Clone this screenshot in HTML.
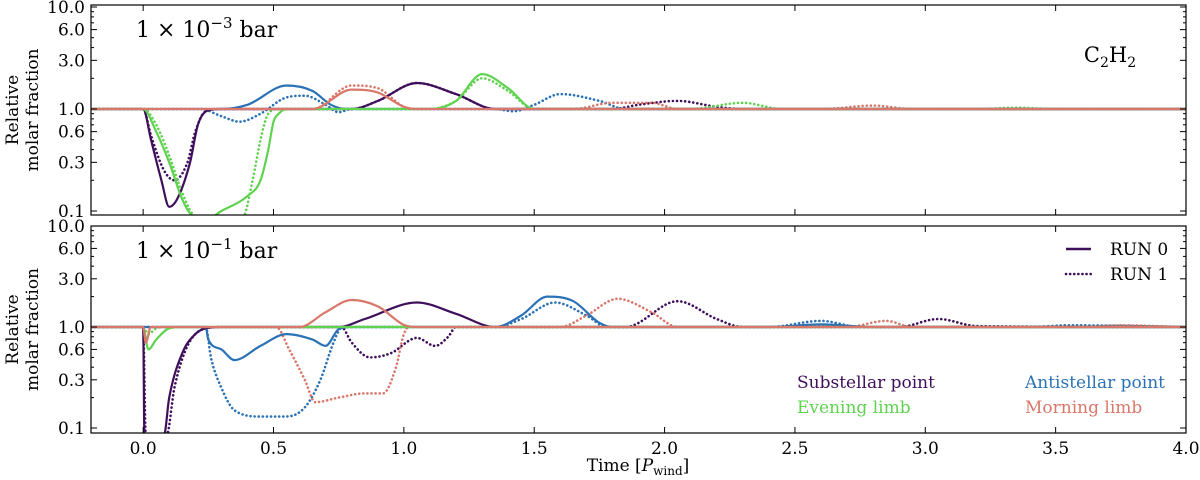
<!DOCTYPE html>
<html><head><meta charset="utf-8"><style>
body{margin:0;background:#fff;}
svg{display:block;font-family:"DejaVu Serif","Liberation Serif",serif;}
</style></head><body>
<svg id="chart" width="1200" height="480" viewBox="0 0 1200 480" xmlns="http://www.w3.org/2000/svg">
<g id="plots"></g>
</svg>
<script>
// ---- data ----
const categories = ["Substellar point","Evening limb","Antistellar point","Morning limb"];
const colors = ["#3f0f5c","#5fd34f","#2a72b5","#d9786a"];
const xTicks = [0.0,0.5,1.0,1.5,2.0,2.5,3.0,3.5,4.0];
const yTicks = [0.1,0.3,0.6,1.0,3.0,6.0,10.0];
const yTickLabels = ["0.1","0.3","0.6","1.0","3.0","6.0","10.0"];
const p1Sub0 = [[-0.2,1],[0,1],[0.03,0.5],[0.07,0.2],[0.1,0.11],[0.13,0.13],[0.18,0.3],[0.21,0.7],[0.25,0.97],[0.3,1],[0.8,1],[0.9,1.2],[1.05,1.8],[1.2,1.4],[1.35,1],[4,1]];
const p1Sub1 = [[-0.2,1],[0,1],[0.03,0.55],[0.08,0.25],[0.12,0.2],[0.17,0.3],[0.2,0.6],[0.24,0.95],[0.3,1],[0.8,1],[0.9,1.2],[1.05,1.8],[1.2,1.4],[1.35,1],[1.8,1],[1.9,1.1],[2.05,1.2],[2.2,1.05],[2.3,1],[4,1]];
const p1Eve0 = [[-0.2,1],[0,1],[0.05,0.6],[0.1,0.3],[0.15,0.13],[0.19,0.09],[0.25,0.085],[0.3,0.1],[0.4,0.14],[0.45,0.2],[0.48,0.4],[0.5,0.75],[0.52,0.9],[0.55,1],[1.1,1],[1.2,1.2],[1.3,2.2],[1.4,1.6],[1.5,1],[4,1]];
const p1Eve1 = [[-0.2,1],[0,1],[0.05,0.7],[0.1,0.35],[0.15,0.15],[0.2,0.09],[0.38,0.085],[0.42,0.2],[0.45,0.5],[0.48,0.9],[0.52,1],[1.1,1],[1.2,1.2],[1.3,2.0],[1.4,1.5],[1.5,1],[2.1,1],[2.3,1.15],[2.45,1],[3.2,1],[3.35,1.03],[3.5,1],[4,1]];
const p1Ant0 = [[-0.2,1],[0,1],[0.3,1],[0.4,1.1],[0.55,1.7],[0.65,1.5],[0.72,1.1],[0.78,1],[4,1]];
const p1Ant1 = [[-0.2,1],[0,1],[0.22,1],[0.3,0.85],[0.37,0.75],[0.45,0.9],[0.55,1.3],[0.62,1.35],[0.7,1.1],[0.75,0.93],[0.8,1],[1.35,1],[1.42,0.95],[1.5,1.1],[1.6,1.4],[1.75,1.2],[1.85,1],[4,1]];
const p1Mor0 = [[-0.2,1],[0,1],[0.65,1],[0.8,1.55],[0.9,1.45],[1.0,1.05],[1.05,1],[4,1]];
const p1Mor1 = [[-0.2,1],[0,1],[0.65,1],[0.8,1.7],[0.9,1.6],[1.0,1.05],[1.05,1],[1.65,1],[1.8,1.15],[1.95,1.15],[2.05,1],[2.6,1],[2.8,1.08],[2.95,1],[4,1]];
const p2Sub0 = [[-0.2,1],[0,1],[0.005,0.085],[0.08,0.085],[0.1,0.2],[0.15,0.55],[0.2,0.85],[0.24,0.97],[0.3,1],[0.75,1],[0.85,1.2],[1.05,1.75],[1.2,1.35],[1.35,1],[4,1]];
const p2Sub1 = [[-0.2,1],[0,1],[0.01,0.085],[0.09,0.085],[0.12,0.25],[0.17,0.65],[0.24,0.97],[0.3,1],[0.76,1],[0.8,0.7],[0.87,0.5],[0.95,0.55],[1.05,0.78],[1.12,0.65],[1.17,0.8],[1.2,1],[1.85,1],[2.05,1.8],[2.2,1.2],[2.3,1],[2.9,1],[3.05,1.2],[3.2,1.02],[4,1]];
const p2Eve0 = [[-0.2,1],[0,1],[0.02,0.6],[0.05,0.75],[0.1,0.97],[0.15,1],[4,1]];
const p2Eve1 = [[-0.2,1],[0,1],[0.02,0.85],[0.05,0.97],[0.08,1],[4,1]];
const p2Ant0 = [[-0.2,1],[0,1],[0.24,1],[0.25,0.75],[0.3,0.6],[0.35,0.47],[0.45,0.65],[0.55,0.85],[0.65,0.75],[0.7,0.65],[0.75,0.95],[0.8,1],[1.35,1],[1.45,1.3],[1.55,2.0],[1.65,1.8],[1.75,1.1],[1.8,1],[2.4,1],[2.6,1.06],[2.8,1],[4,1]];
const p2Ant1 = [[-0.2,1],[0,1],[0.24,1],[0.26,0.5],[0.3,0.25],[0.35,0.15],[0.45,0.13],[0.55,0.13],[0.62,0.16],[0.68,0.3],[0.73,0.7],[0.76,0.98],[0.8,1],[1.35,1],[1.45,1.2],[1.58,1.75],[1.7,1.3],[1.78,1],[2.4,1],[2.6,1.15],[2.75,1],[3.4,1],[3.55,1.04],[4,1]];
const p2Mor0 = [[-0.2,1],[0,1],[0.01,0.7],[0.03,1],[0.6,1],[0.7,1.4],[0.8,1.85],[0.9,1.6],[1.0,1.05],[1.05,1],[4,1]];
const p2Mor1 = [[-0.2,1],[0,1],[0.51,1],[0.56,0.6],[0.62,0.3],[0.66,0.18],[0.75,0.2],[0.85,0.22],[0.92,0.22],[0.97,0.4],[1.0,0.85],[1.02,1],[1.6,1],[1.7,1.3],[1.82,1.9],[1.95,1.4],[2.05,1],[2.7,1],[2.85,1.15],[2.95,1],[3.6,1],[3.75,1.04],[4,1]];

const NS="http://www.w3.org/2000/svg";
const root=document.getElementById('plots');
const L=91,R=1186,X0=-0.2,X1=4.0;
function sx(t){return L+(t-X0)/(X1-X0)*(R-L);}
function mk(tag,attrs,parent){const e=document.createElementNS(NS,tag);for(const k in attrs)e.setAttribute(k,attrs[k]);(parent||root).appendChild(e);return e;}
function monotone(pts){
  const n=pts.length;if(n<3)return pts;
  const d=[],m=[];
  for(let i=0;i<n-1;i++)d.push((pts[i+1][1]-pts[i][1])/Math.max(1e-6,pts[i+1][0]-pts[i][0]));
  m[0]=d[0];m[n-1]=d[n-2];
  for(let i=1;i<n-1;i++)m[i]=(d[i-1]*d[i]<=0)?0:(d[i-1]+d[i])/2;
  for(let i=0;i<n-1;i++){if(d[i]===0){m[i]=0;m[i+1]=0;continue;}const a=m[i]/d[i],b=m[i+1]/d[i],s=a*a+b*b;if(s>9){const t=3/Math.sqrt(s);m[i]=t*a*d[i];m[i+1]=t*b*d[i];}}
  let p="M"+pts[0][0].toFixed(1)+","+pts[0][1].toFixed(1);
  for(let i=0;i<n-1;i++){const h=pts[i+1][0]-pts[i][0];
    p+=" C"+(pts[i][0]+h/3).toFixed(1)+","+(pts[i][1]+m[i]*h/3).toFixed(1)+" "+(pts[i+1][0]-h/3).toFixed(1)+","+(pts[i+1][1]-m[i+1]*h/3).toFixed(1)+" "+pts[i+1][0].toFixed(1)+","+pts[i+1][1].toFixed(1);}
  return p;
}
function panel(idx,top,bottom,y1px,dec,series,label,showX){
  const g=mk('g',{});
  
  
  const sy=v=>y1px-dec*Math.log10(v);
  const cid='clip'+idx;
  const cp=mk('clipPath',{id:cid},g);mk('rect',{x:L,y:top,width:R-L,height:bottom-top},cp);
  const lines=mk('g',{'clip-path':'url(#'+cid+')'},g);
  [1,0].forEach(run=>{
    [2,0,1,3].forEach(c=>{
      const data=series[c][run];
      const pts=data.map(p=>[sx(p[0]),sy(Math.max(p[1],0.05))]);
      const path=mk('path',{d:monotone(pts),fill:'none',stroke:colors[c],'stroke-width':2.2,'stroke-linecap':'round','stroke-linejoin':'round'},lines);
      if(run===1){path.setAttribute('stroke-dasharray','0.1 4');path.setAttribute('stroke-width',2.6);}
      
      
    });
  });
  const fr=mk('rect',{x:L,y:top,width:R-L,height:bottom-top,fill:'none',stroke:'#000','stroke-width':1.2},g);
  
  
  yTicks.forEach((v,i)=>{const y=sy(v);
    mk('line',{x1:L,x2:L+6,y1:y,y2:y,stroke:'#000'},g);mk('line',{x1:R-6,x2:R,y1:y,y2:y,stroke:'#000'},g);
    const t=mk('text',{x:L-6,y:y+6,'text-anchor':'end','font-size':17},g);t.textContent=yTickLabels[i];
    
    
  });
  [0.2,0.4,0.5,0.7,0.8,0.9,2,4,5,7,8,9].forEach(v=>{const y=sy(v);
    mk('line',{x1:L,x2:L+3,y1:y,y2:y,stroke:'#000'},g);mk('line',{x1:R-3,x2:R,y1:y,y2:y,stroke:'#000'},g);});
  xTicks.forEach(v=>{const x=sx(v);
    mk('line',{x1:x,x2:x,y1:bottom,y2:bottom-6,stroke:'#000'},g);mk('line',{x1:x,x2:x,y1:top,y2:top+6,stroke:'#000'},g);
    if(showX){const t=mk('text',{x:x,y:bottom+21,'text-anchor':'middle','font-size':17},g);t.textContent=v.toFixed(1);
      
      }
  });
  const yl=mk('text',{transform:'translate(22,'+((top+bottom)/2)+') rotate(-90)','text-anchor':'middle','font-size':17},g);
  
  
  mk('tspan',{x:0,dy:-4},yl).textContent='Relative';
  mk('tspan',{x:0,dy:20},yl).textContent='molar fraction';
  const pl=mk('text',{x:136,y:top+32,'font-size':22},g);
  
  
  pl.innerHTML='1 × 10<tspan dy="-9" font-size="15">'+label+'</tspan><tspan dy="9"> bar</tspan>';
  return g;
}
panel(0,5,215,109,102,[[p1Sub0,p1Sub1],[p1Eve0,p1Eve1],[p1Ant0,p1Ant1],[p1Mor0,p1Mor1]],'−3',false);
panel(1,226,433,327,101,[[p2Sub0,p2Sub1],[p2Eve0,p2Eve1],[p2Ant0,p2Ant1],[p2Mor0,p2Mor1]],'−1',true);
const sp=mk('text',{x:1110,y:62,'font-size':21,'text-anchor':'middle'});


sp.innerHTML='C<tspan dy="5" font-size="14">2</tspan><tspan dy="-5">H</tspan><tspan dy="5" font-size="14">2</tspan>';
const lg=mk('g',{});


mk('line',{x1:1066,x2:1091,y1:249,y2:249,stroke:colors[0],'stroke-width':2.5},lg);
mk('line',{x1:1066,x2:1091,y1:274,y2:274,stroke:colors[0],'stroke-width':2.6,'stroke-dasharray':'0.1 4','stroke-linecap':'round'},lg);
const r0=mk('text',{x:1110,y:255,'font-size':17},lg);r0.textContent='RUN 0';


const r1=mk('text',{x:1110,y:280,'font-size':17},lg);r1.textContent='RUN 1';


const locPos=[[797,388],[797,413],[1025,388],[1025,413]];
categories.forEach((c,i)=>{const t=mk('text',{x:locPos[i][0],y:locPos[i][1],'font-size':17,fill:colors[i],'text-anchor':'start'});t.textContent=c;
  
  });
const xt=mk('text',{x:638,y:471,'font-size':17,'text-anchor':'middle'});


xt.innerHTML='Time [<tspan font-style="italic">P</tspan><tspan dy="4" font-size="12">wind</tspan><tspan dy="-4">]</tspan>';
</script>
</body></html>
